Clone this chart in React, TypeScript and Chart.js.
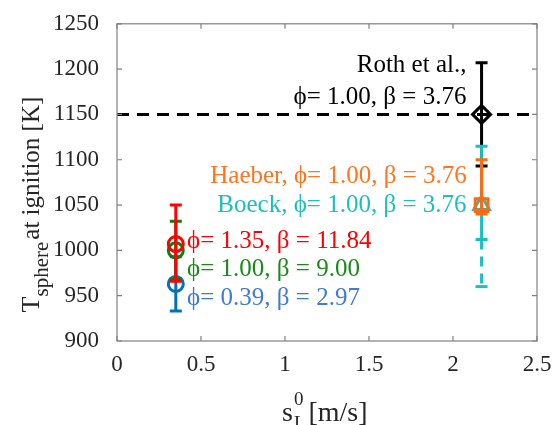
import { useEffect, useRef } from 'react';
import { Chart, registerables } from 'chart.js';

Chart.register(...registerables);

// ---- data ----
const xTicks = [0, 0.5, 1, 1.5, 2, 2.5];
const yTicks = [900, 950, 1000, 1050, 1100, 1150, 1200, 1250];

// z-order: first drawn on top
const seriesNames = ['Haeber', 'Boeck', 'Roth', 'red', 'green', 'blue'];
const seriesX = [2.17, 2.17, 2.17, 0.35, 0.35, 0.35];
const seriesY = [1050, 1050, 1150, 1007, 1000, 963];
const seriesLow = [1040, 1012, 1093, 966, 968, 933];
const seriesHigh = [1100, 1115, 1207, 1050, 1032, 993];
const seriesDashedLow = [null, 960, null, null, null, null];
const seriesColors = ['#FF6A10', '#1CBFBF', '#000000', '#FF0000', '#0A800A', '#0072BD'];
const seriesMarkers = ['rect', 'triangle', 'rectRot', 'circle', 'circle', 'circle'];
const seriesRadius = [9, 9, 9, 7.5, 7.5, 7.5];

const refLineX = [0, 2.5];
const refLineY = 1150;

const labelTexts = [
  'Roth et al.,',
  'ϕ= 1.00, β = 3.76',
  'Haeber, ϕ= 1.00, β = 3.76',
  'Boeck, ϕ= 1.00, β = 3.76',
  'ϕ= 1.35, β = 11.84',
  'ϕ= 1.00, β = 9.00',
  'ϕ= 0.39, β = 2.97',
];
const labelColors = ['#000000', '#000000', '#FF7420', '#1CBFBF', '#FF0000', '#1A8A1A', '#3F7BD2'];
// anchor in data coordinates
const labelX = [2.08, 2.08, 0.555, 0.597, 0.417, 0.417, 0.417];
const labelY = [1204.5, 1168.5, 1081.2, 1050, 1010, 979.5, 947.3];
const labelAlign = ['right', 'right', 'left', 'left', 'left', 'left', 'left'];

const SERIF = "'Liberation Serif', 'Times New Roman', serif";

const decorPlugin = {
  id: 'decor',
  beforeDatasetDraw(chart: any, args: any) {
    const ds: any = chart.data.datasets[args.index];
    if (ds.errLow == null) return;
    const { ctx } = chart;
    const xs = chart.scales.x;
    const ys = chart.scales.y;
    const px = xs.getPixelForValue(ds.data[0].x);
    const pLow = ys.getPixelForValue(ds.errLow);
    const pHigh = ys.getPixelForValue(ds.errHigh);
    const cap = 6;
    ctx.save();
    ctx.strokeStyle = ds.borderColor;
    ctx.lineWidth = 3;
    ctx.beginPath();
    ctx.moveTo(px, pLow);
    ctx.lineTo(px, pHigh);
    ctx.moveTo(px - cap, pLow);
    ctx.lineTo(px + cap, pLow);
    ctx.moveTo(px - cap, pHigh);
    ctx.lineTo(px + cap, pHigh);
    ctx.stroke();
    if (ds.errDashedLow != null) {
      const pD = ys.getPixelForValue(ds.errDashedLow);
      ctx.setLineDash([10, 7]);
      ctx.beginPath();
      ctx.moveTo(px, pLow);
      ctx.lineTo(px, pD);
      ctx.stroke();
      ctx.setLineDash([]);
      ctx.beginPath();
      ctx.moveTo(px - cap, pD);
      ctx.lineTo(px + cap, pD);
      ctx.stroke();
    }
    ctx.restore();
  },
  afterDraw(chart: any) {
    const { ctx, chartArea: a } = chart;
    const xs = chart.scales.x;
    const ys = chart.scales.y;
    ctx.save();
    // box
    ctx.strokeStyle = '#808080';
    ctx.lineWidth = 1.2;
    ctx.strokeRect(a.left, a.top, a.right - a.left, a.bottom - a.top);
    const tl = 5;
    ctx.beginPath();
    xTicks.forEach((v) => {
      const p = xs.getPixelForValue(v);
      ctx.moveTo(p, a.bottom);
      ctx.lineTo(p, a.bottom - tl);
      ctx.moveTo(p, a.top);
      ctx.lineTo(p, a.top + tl);
    });
    yTicks.forEach((v) => {
      const p = ys.getPixelForValue(v);
      ctx.moveTo(a.left, p);
      ctx.lineTo(a.left + tl, p);
      ctx.moveTo(a.right, p);
      ctx.lineTo(a.right - tl, p);
    });
    ctx.stroke();

    // annotations
    ctx.font = `25px ${SERIF}`;
    ctx.textBaseline = 'middle';
    labelTexts.forEach((t, i) => {
      ctx.fillStyle = labelColors[i];
      ctx.textAlign = labelAlign[i] as CanvasTextAlign;
      ctx.fillText(t, xs.getPixelForValue(labelX[i]), ys.getPixelForValue(labelY[i]));
    });

    // y title
    ctx.fillStyle = '#262626';
    ctx.textAlign = 'left';
    ctx.textBaseline = 'alphabetic';
    ctx.save();
    ctx.translate(39, (a.top + a.bottom) / 2 + 130);
    ctx.rotate(-Math.PI / 2);
    ctx.font = `26px ${SERIF}`;
    ctx.fillText('T', 0, 0);
    let w = ctx.measureText('T').width;
    ctx.font = `21px ${SERIF}`;
    ctx.fillText('sphere', w, 9);
    w += ctx.measureText('sphere').width + 2;
    ctx.font = `25px ${SERIF}`;
    ctx.fillText('at ignition [K]', w, 0);
    ctx.restore();

    // x title
    ctx.font = `28px ${SERIF}`;
    let x0 = 282;
    ctx.fillText('s', x0, 421);
    x0 += ctx.measureText('s').width;
    ctx.font = `19px ${SERIF}`;
    ctx.fillText('0', x0 + 1, 405);
    ctx.fillText('L', x0 + 1, 429);
    x0 += ctx.measureText('0').width + 6;
    ctx.font = `28px ${SERIF}`;
    ctx.fillText('[m/s]', x0, 421);
    ctx.restore();
  },
};

export default function App() {
  const ref = useRef<HTMLCanvasElement | null>(null);
  useEffect(() => {
    document.body.style.margin = '0';
    const datasets: any[] = seriesNames.map((n, i) => ({
      label: n,
      type: 'scatter',
      data: [{ x: seriesX[i], y: seriesY[i] }],
      borderColor: seriesColors[i],
      backgroundColor: 'rgba(0,0,0,0)',
      pointStyle: seriesMarkers[i],
      pointRadius: seriesRadius[i],
      pointBorderWidth: 3,
      errLow: seriesLow[i],
      errHigh: seriesHigh[i],
      errDashedLow: seriesDashedLow[i],
    }));
    datasets.push({
      label: 'ref',
      type: 'line',
      data: refLineX.map((x) => ({ x, y: refLineY })),
      borderColor: '#000000',
      borderWidth: 3,
      borderDash: [12, 8],
      pointRadius: 0,
      fill: false,
    });
    const chart = new Chart(ref.current as HTMLCanvasElement, {
      type: 'scatter',
      data: { datasets },
      options: {
        animation: false,
        responsive: false,
        events: [],
        layout: { padding: { top: 21, right: 19, left: 0, bottom: 0 } },
        plugins: { legend: { display: false }, tooltip: { enabled: false } },
        scales: {
          x: {
            type: 'linear',
            min: 0,
            max: 2.5,
            afterBuildTicks: (s: any) => {
              s.ticks = xTicks.map((v) => ({ value: v }));
            },
            afterFit: (s: any) => {
              s.height = 84;
            },
            ticks: {
              font: { family: SERIF, size: 23 },
              color: '#262626',
              padding: 2,
              maxRotation: 0,
              callback: (v: any) => String(v),
            },
            grid: { display: false },
            border: { display: false },
          },
          y: {
            type: 'linear',
            min: 900,
            max: 1250,
            afterBuildTicks: (s: any) => {
              s.ticks = yTicks.map((v) => ({ value: v }));
            },
            afterFit: (s: any) => {
              s.width = 117;
            },
            ticks: {
              font: { family: SERIF, size: 23 },
              color: '#262626',
              padding: 10,
              callback: (v: any) => String(v),
            },
            grid: { display: false },
            border: { display: false },
          },
        },
      },
      plugins: [decorPlugin],
    } as any);
    return () => chart.destroy();
  }, []);
  return <canvas ref={ref} width={556} height={425} style={{ display: 'block' }} />;
}
